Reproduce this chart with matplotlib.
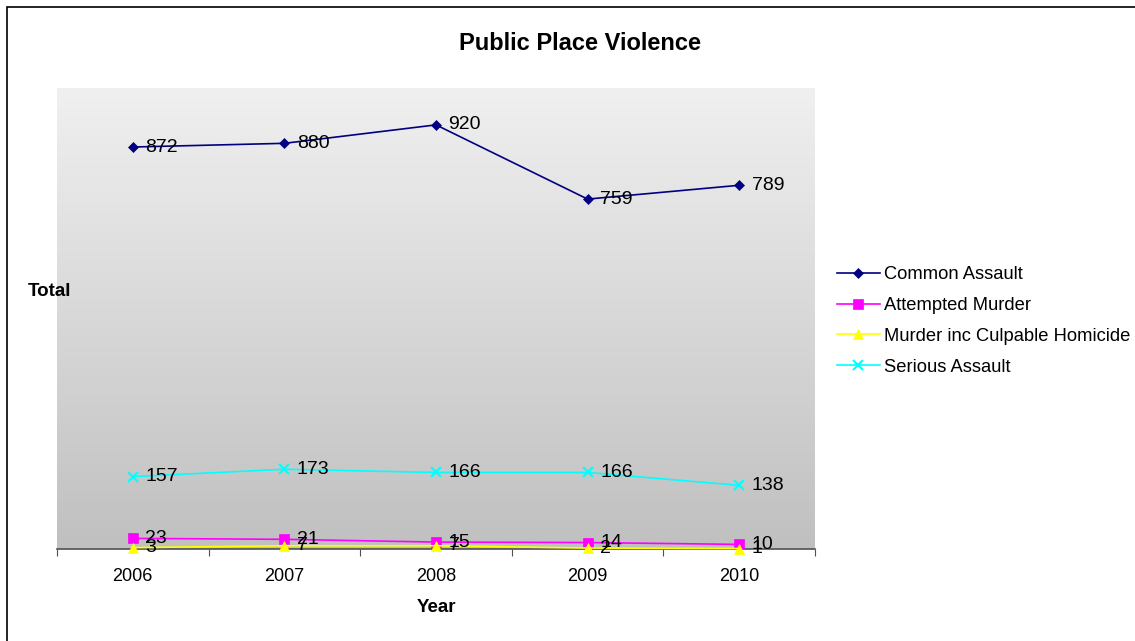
import matplotlib.pyplot as plt
import numpy as np
from matplotlib.patches import Rectangle

years = ['2006', '2007', '2008', '2009', '2010']
common_assault = [872, 880, 920, 759, 789]
attempted_murder = [23, 21, 15, 14, 10]
murder_homicide = [3, 7, 7, 2, 1]
serious_assault = [157, 173, 166, 166, 138]

series = [
    ('Common Assault', common_assault, '#000080', 'D', 5.5),
    ('Attempted Murder', attempted_murder, '#ff00ff', 's', 6.5),
    ('Murder inc Culpable Homicide', murder_homicide, '#ffff00', '^', 7.5),
    ('Serious Assault', serious_assault, '#00ffff', 'x', 7.5),
]

plt.rcParams['font.family'] = ['Liberation Sans', 'DejaVu Sans']

W, H = 1135, 641
fig = plt.figure(figsize=(W / 100, H / 100), dpi=100)
# outer chart border (only top/left visible in the crop)
fig.patches.append(Rectangle((7 / W, -0.1), 1.2, 1.1 - 7 / H,
                             transform=fig.transFigure, fill=False,
                             edgecolor='black', linewidth=1.2))

ax = fig.add_axes([57 / W, (H - 549) / H, (815 - 57) / W, (549 - 88) / H])

x = np.arange(len(years))
ax.set_xlim(-0.5, len(years) - 0.5)
ax.set_ylim(0, 1000)

# gray gradient background
grad = np.linspace(0, 1, 256).reshape(-1, 1)
cmap = plt.matplotlib.colors.LinearSegmentedColormap.from_list('g', ['#c0c0c0', '#f0f0f0'])
ax.imshow(grad, extent=(-0.5, len(years) - 0.5, 0, 1000), origin='lower',
          aspect='auto', cmap=cmap, zorder=0)

for name, vals, color, marker, ms in series:
    ax.plot(x, vals, color=color, marker=marker, markersize=ms, linewidth=1.2,
            markeredgewidth=1.5 if marker == 'x' else 0.5, label=name, zorder=3,
            clip_on=False)
    for xi, v in zip(x, vals):
        ax.annotate(str(v), (xi, v), xytext=(9, 0), textcoords='offset points',
                    ha='left', va='center', fontsize=14, color='black', zorder=4)

for s in ['top', 'right', 'left']:
    ax.spines[s].set_visible(False)
ax.spines['bottom'].set_color('#505050')
ax.spines['bottom'].set_linewidth(1.2)
ax.set_yticks([])
ax.set_xticks(np.arange(-0.5, len(years)), minor=False)
ax.set_xticklabels([])
ax.set_xticks(x, minor=True)
ax.set_xticklabels(years, minor=True, fontsize=13)
ax.tick_params(axis='x', which='major', length=5, color='#505050', direction='out')
ax.tick_params(axis='x', which='minor', length=0, pad=14)

ax.set_xlabel('Year', fontsize=13.5, fontweight='bold', labelpad=10)
fig.text(28 / W, 1 - 291 / H, 'Total', fontsize=13.5, fontweight='bold',
         ha='left', va='center')
fig.text(580 / W, 1 - 43 / H, 'Public Place Violence', fontsize=17,
         fontweight='bold', ha='center', va='center')

fig.legend(loc='upper left', bbox_to_anchor=(830 / W, 1 - 259 / H),
           frameon=False, fontsize=13.2, handlelength=2.3, handletextpad=0.25,
           labelspacing=0.75, borderaxespad=0)

fig.savefig('out.png', dpi=100)
